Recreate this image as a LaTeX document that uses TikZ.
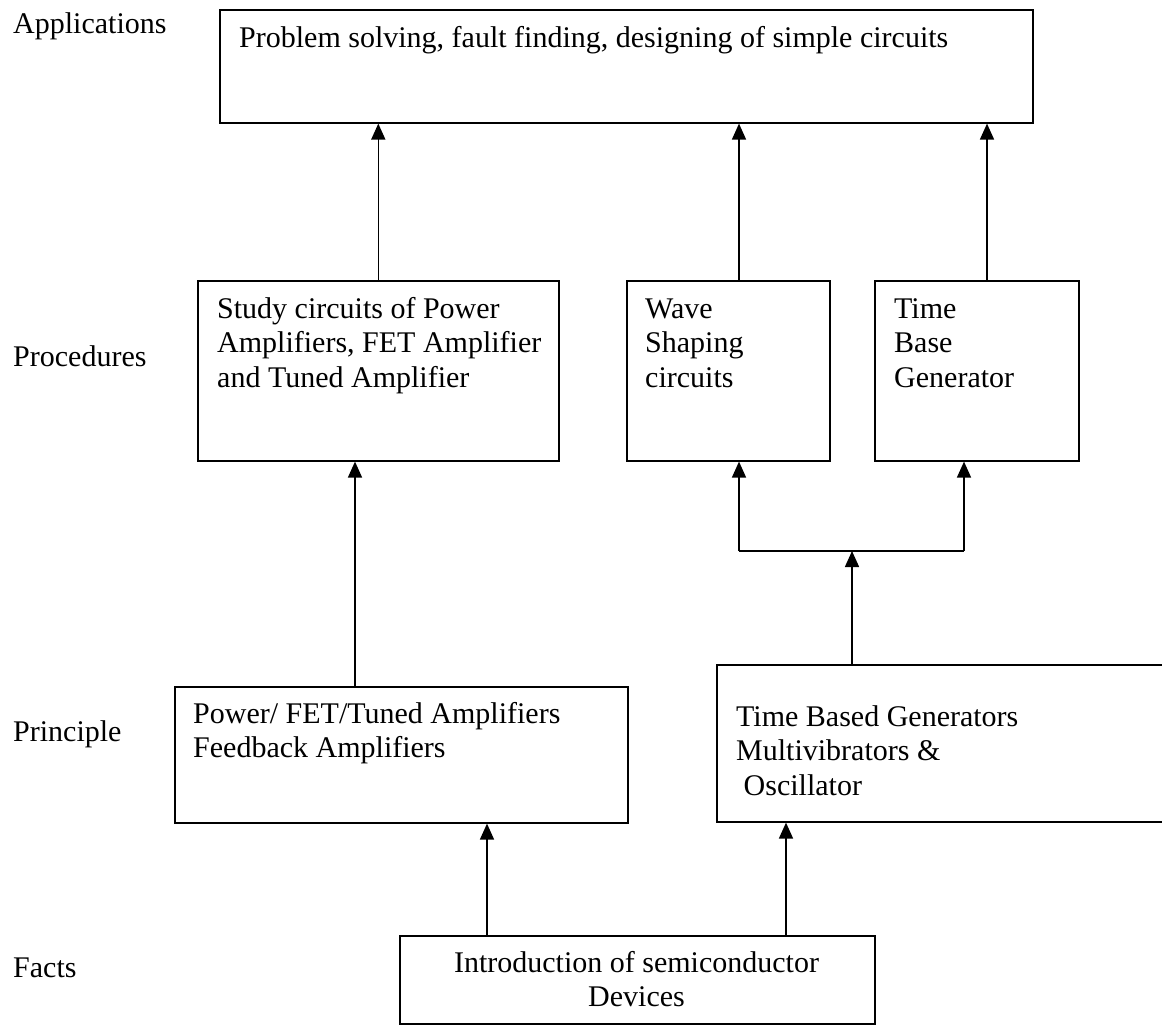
\documentclass[tikz,border=0pt]{standalone}
\usepackage{fontspec}
\setmainfont{Liberation Serif}
\usetikzlibrary{arrows.meta,calc}
\begin{document}
\begin{tikzpicture}[x=1pt,y=-1pt,
  box/.style={draw, line width=1.6pt, inner sep=0pt, anchor=north west, rectangle},
  txt/.style={inner sep=0pt, anchor=north west, align=left, font=\fontsize{30}{34.5}\selectfont},
  lbl/.style={inner sep=0pt, anchor=base west, font=\fontsize{30}{34.5}\selectfont},
  arr/.style={line width=1.6pt, -{Triangle[width=14pt,length=16pt]}},
  ln/.style={line width=1.6pt}]
\useasboundingbox (0,0) rectangle (1162,1026);
\fill[white] (0,0) rectangle (1162,1026);
\clip (0,0) rectangle (1162,1026);

% boxes
\node[box, minimum width=813pt, minimum height=113pt] (app) at (219,9) {};
\node[box, minimum width=361pt, minimum height=180pt] (study) at (197,280) {};
\node[box, minimum width=203pt, minimum height=180pt] (wave) at (626,280) {};
\node[box, minimum width=204pt, minimum height=180pt] (tbase) at (874,280) {};
\node[box, minimum width=453pt, minimum height=136pt] (power) at (174,686) {};
\node[box, minimum width=460pt, minimum height=157pt] (tbg) at (716,664) {};
\node[box, minimum width=475pt, minimum height=88pt] (intro) at (399,935) {};

% texts
\node[txt] (tapp) at (239,22) {\rule{0pt}{25pt}Problem solving, fault finding, designing of simple circuits};
\node[txt] (tstudy) at (217,293) {\rule{0pt}{25pt}Study circuits of Power\\Amplifiers, FET Amplifier\\and Tuned Amplifier};
\node[txt] (twave) at (645,293) {\rule{0pt}{25pt}Wave\\Shaping\\circuits};
\node[txt] (ttbase) at (894,293) {\rule{0pt}{25pt}Time\\Base\\Generator};
\node[txt] (tpower) at (193,698) {\rule{0pt}{25pt}Power/ FET/Tuned Amplifiers\\Feedback Amplifiers};
\node[txt] (ttbg) at (736,701) {\rule{0pt}{25pt}Time Based Generators\\Multivibrators \&\\\hspace*{7.5pt}Oscillator};
\node[txt, anchor=north, align=center] (tintro) at (636.5,947) {\rule{0pt}{25pt}Introduction of semiconductor\\Devices};

% side labels
\node[lbl] (lapp) at (13,33) {Applications};
\node[lbl] (lproc) at (13,366) {Procedures};
\node[lbl] (lprin) at (13,741) {Principle};
\node[lbl] (lfact) at (13,977) {Facts};

% connectors to top
\draw[arr] (study.north) -- (study.north |- app.south);
\draw[arr] ($(wave.north west)+(113,0)$) -- ($(app.south west)+(520,0)$);
\draw[arr] ($(tbase.north west)+(113,0)$) -- ($(app.south west)+(768,0)$);

% power -> study
\draw[arr] ($(power.north west)+(181,0)$) -- ($(study.south west)+(158,0)$);

% branch
\coordinate (bl) at (739,551);
\coordinate (bm) at (852,551);
\coordinate (bri) at (964,551);
\draw[ln] (bl) -- (bri);
\draw[arr] ($(tbg.north west)+(136,0)$) -- (bm);
\draw[arr] (bl) -- ($(wave.south west)+(113,0)$);
\draw[arr] (bri) -- ($(tbase.south west)+(90,0)$);

% intro -> principles
\draw[arr] ($(intro.north west)+(88,0)$) -- ($(power.south west)+(313,0)$);
\draw[arr] ($(intro.north west)+(387,0)$) -- ($(tbg.south west)+(70,0)$);
\end{tikzpicture}
\end{document}
